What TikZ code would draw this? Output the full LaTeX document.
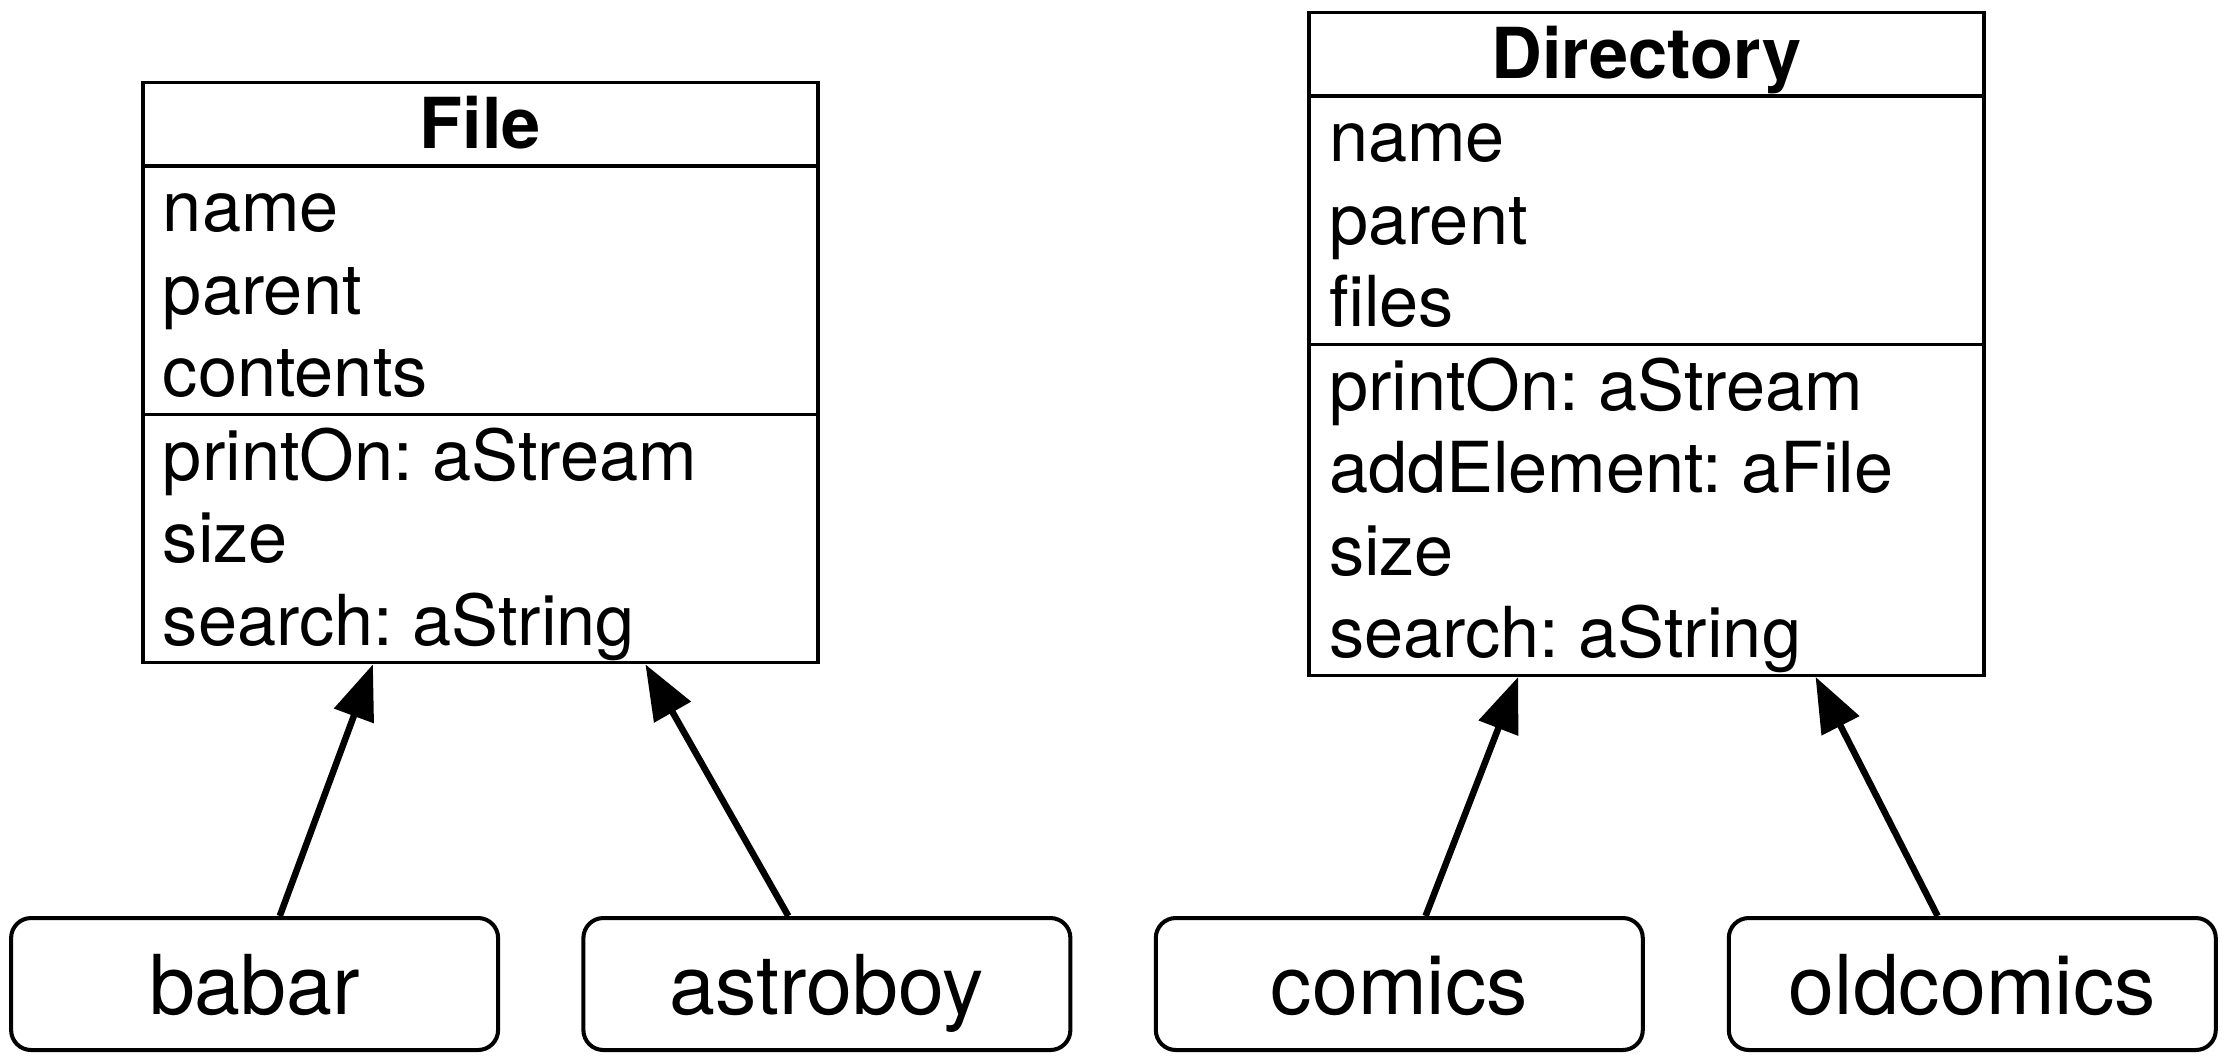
\documentclass[tikz,border=0pt]{standalone}
\usepackage{fontspec}
\setmainfont{TeX Gyre Heros}
\usetikzlibrary{positioning, arrows.meta, shapes.multipart}
\frenchspacing
\newcommand{\rowst}{\rule[-0.16cm]{0pt}{0.80cm}}
\newcommand{\ctitle}[1]{\parbox{6.35cm}{\centering\bfseries #1\rowst}}
\newcommand{\cpart}[1]{\parbox{6.35cm}{\raggedright #1}}

\begin{document}
\begin{tikzpicture}[
    cls/.style={rectangle split, rectangle split parts=3, draw=black,
        line width=0.95pt, inner xsep=0.2cm, inner ysep=0pt,
        font=\fontsize{20pt}{0.825cm}\selectfont},
    obj/.style={draw=black, rounded corners=0.2cm, line width=1.15pt,
        minimum width=4.87cm, minimum height=1.32cm,
        text height=0.6cm, text depth=0pt,
        font=\fontsize{23.5pt}{28pt}\selectfont},
    inh/.style={-{Triangle[length=0.55cm,width=0.41cm]}, line width=1.85pt},
]
\useasboundingbox (0,0) rectangle (22.24,-10.58);

% ====== CLASSES ======
\node[cls, anchor=north] (File) at (4.805,-0.81)
    {\ctitle{File}
     \nodepart{second}\cpart{name\rowst\\ parent\rowst\\ contents\rowst}
     \nodepart{third}\cpart{printOn: aStream\rowst\\ size\rowst\\
        search: aString\rowst}};

\node[cls, anchor=north] (Directory) at (16.465,-0.11)
    {\ctitle{Directory}
     \nodepart{second}\cpart{name\rowst\\ parent\rowst\\ files\rowst}
     \nodepart{third}\cpart{printOn: aStream\rowst\\ addElement: aFile\rowst\\
        size\rowst\\ search: aString\rowst}};

% ====== INSTANCES ======
\node[obj] (babar)     at (2.546,-9.84)  {babar};
\node[obj] (astroboy)  at (8.269,-9.84)  {astroboy};
\node[obj] (comics)    at (13.993,-9.84) {comics};
\node[obj] (oldcomics) at (19.723,-9.84) {oldcomics};

\foreach \a/\b in {babar/File, astroboy/File,
    comics/Directory, oldcomics/Directory}
    \draw[inh] (\a) -- (\b);

\end{tikzpicture}
\end{document}
